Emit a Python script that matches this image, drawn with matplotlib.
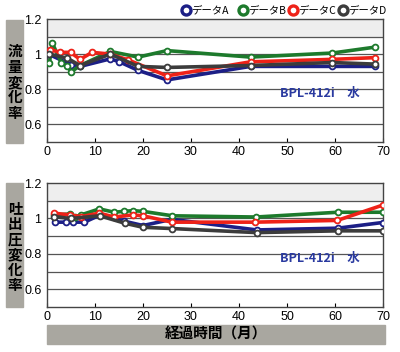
#!/usr/bin/env python3
"""
Flow / discharge pressure change ratio vs elapsed months (BPL-412i, water)
"""

import matplotlib
matplotlib.use("Agg")
import matplotlib.pyplot as plt
from matplotlib.patches import Rectangle

JP = ['Noto Sans CJK JP', 'DejaVu Sans']
plt.rcParams['font.family'] = ['Liberation Sans', 'DejaVu Sans']

# series names and colours
names = ['データA', 'データB', 'データC', 'データD']
colors = ['#1c1f86', '#1d7a2c', '#ee2218', '#3c3c3c']

# top panel: flow change ratio
top_a_x = [0.3, 5.0, 6.9, 13.2, 15.1, 19.0, 25.0, 42.4, 59.4, 68.4]
top_a_y = [1.0, 0.94, 0.93, 0.973, 0.956, 0.907, 0.853, 0.93, 0.93, 0.93]
top_b_x = [0.5, 1.1, 3.0, 4.2, 5.1, 6.9, 13.2, 19.0, 25.0, 42.4, 59.4, 68.4]
top_b_y = [0.95, 1.063, 0.95, 0.93, 0.90, 0.935, 1.015, 0.983, 1.02, 0.983, 1.006, 1.04]
top_c_x = [0.7, 2.8, 4.9, 6.9, 9.4, 13.2, 16.9, 25.0, 42.4, 59.4, 68.4]
top_c_y = [1.025, 1.01, 1.01, 0.97, 1.01, 1.0, 0.967, 0.876, 0.956, 0.97, 0.98]
top_d_x = [0.5, 4.2, 6.9, 13.2, 19.0, 25.0, 42.4, 59.4, 68.4]
top_d_y = [1.0, 0.977, 0.935, 1.0, 0.93, 0.924, 0.935, 0.952, 0.943]

# bottom panel: discharge pressure change ratio
bot_a_x = [1.7, 4.0, 5.5, 7.8, 11.1, 16.0, 20.0, 26.0, 43.7, 60.6, 69.9]
bot_a_y = [0.979, 0.979, 0.979, 0.979, 1.02, 0.985, 0.96, 0.995, 0.935, 0.945, 0.977]
bot_b_x = [1.4, 4.7, 5.9, 7.1, 10.9, 14.0, 16.0, 17.9, 20.0, 26.1, 43.5, 60.6, 69.9]
bot_b_y = [1.02, 1.025, 1.01, 1.02, 1.054, 1.035, 1.04, 1.044, 1.04, 1.015, 1.008, 1.035, 1.035]
bot_c_x = [1.4, 4.7, 7.1, 10.9, 14.0, 17.9, 20.0, 26.0, 43.4, 60.5, 69.9]
bot_c_y = [1.03, 1.02, 1.01, 1.03, 1.008, 1.02, 1.015, 0.979, 0.979, 0.989, 1.075]
bot_d_x = [1.4, 5.0, 11.0, 16.2, 20.0, 26.0, 43.7, 60.6, 69.9]
bot_d_y = [1.01, 1.0, 1.015, 0.973, 0.95, 0.943, 0.92, 0.93, 0.93]

x_ticks = [0, 10, 20, 30, 40, 50, 60, 70]
y_ticks = [0.6, 0.8, 1.0, 1.2]
y_tick_labels = ['0.6', '0.8', '1', '1.2']
grid_levels = [0.6, 0.7, 0.8, 0.9, 1.0, 1.1]


def draw_panel(ax, series):
    ax.set_xlim(0, 70)
    ax.set_ylim(0.5, 1.2)
    ax.axhspan(1.1, 1.2, color='#eeeeee', zorder=0)
    for g in grid_levels:
        ax.axhline(g, color='#555555', lw=0.9, zorder=1)
    # draw order: D, B, C, A
    for i in [3, 1, 2, 0]:
        xs, ys = series[i]
        ax.plot(xs, ys, color=colors[i], lw=2.6, zorder=3 + i * 0.1,
                marker='o', ms=4.2, mfc='white', mec=colors[i], mew=1.3)
    ax.set_xticks(x_ticks)
    ax.set_yticks(y_ticks)
    ax.set_yticklabels(y_tick_labels)
    ax.tick_params(axis='x', direction='in', length=3, labelsize=9, pad=3)
    ax.tick_params(axis='y', length=0, labelsize=9, pad=4)
    for s in ax.spines.values():
        s.set_color('#444444')
        s.set_linewidth(1.0)
    ax.text(0.93, 0.39, 'BPL-412i\u3000水', transform=ax.transAxes,
            ha='right', va='center', color='#2a3aa0', fontsize=9,
            fontweight='bold', family=JP)


fig = plt.figure(figsize=(4.0, 3.52), dpi=100)

ax1 = fig.add_axes([0.1175, 0.597, 0.84, 0.349])
draw_panel(ax1, [(top_a_x, top_a_y), (top_b_x, top_b_y),
                 (top_c_x, top_c_y), (top_d_x, top_d_y)])

ax2 = fig.add_axes([0.1175, 0.128, 0.84, 0.352])
draw_panel(ax2, [(bot_a_x, bot_a_y), (bot_b_x, bot_b_y),
                 (bot_c_x, bot_c_y), (bot_d_x, bot_d_y)])

# gray label boxes
box_color = '#a9a7a0'
fig.patches.append(Rectangle((6 / 400, 1 - 143 / 352), 17 / 400, 123 / 352,
                             transform=fig.transFigure, color=box_color, zorder=0))
fig.patches.append(Rectangle((6 / 400, 1 - 307 / 352), 17 / 400, 124 / 352,
                             transform=fig.transFigure, color=box_color, zorder=0))
fig.patches.append(Rectangle((47 / 400, 1 - 344 / 352), 338 / 400, 19 / 352,
                             transform=fig.transFigure, color=box_color, zorder=0))

fig.text(15 / 400, 1 - 82 / 352, '\n'.join('流量変化率'), ha='center', va='center',
         fontsize=10.5, fontweight='bold', family=JP, linespacing=0.95)
fig.text(15 / 400, 1 - 247 / 352, '\n'.join('吐出圧変化率'), ha='center', va='center',
         fontsize=10.5, fontweight='bold', family=JP, linespacing=0.95)
fig.text(216 / 400, 1 - 334 / 352, '経過時間（月）', ha='center', va='center',
         fontsize=10.5, fontweight='bold', family=JP)

# legend
leg_x = [186, 243, 293, 343]
for i, name in enumerate(names):
    fig.lines.append(plt.Line2D([leg_x[i] / 400], [1 - 10 / 352], transform=fig.transFigure,
                                marker='o', ms=6.5, mfc='white', mec=colors[i], mew=2.4))
    fig.text((leg_x[i] + 5) / 400, 1 - 10 / 352, name, ha='left', va='center',
             fontsize=7.5, family=JP)

fig.savefig('out.png', dpi=100)
